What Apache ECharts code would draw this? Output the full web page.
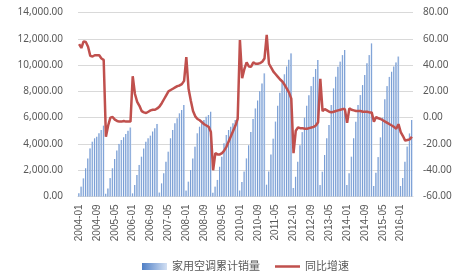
<!DOCTYPE html>
<html>
<head>
<meta charset="utf-8">
<script src="https://cdn.jsdelivr.net/npm/echarts@6/dist/echarts.min.js"></script>
<style>html,body{margin:0;padding:0;background:#fff;}#c{width:462px;height:273px;}</style>
</head>
<body>
<div id="c"></div>
<script>
// Cumulative household AC sales, by year (Jan..Dec)
const sales2004 = [240, 750, 1380, 2140, 2900, 3660, 4170, 4430, 4550, 4810, 5060, 5390];
const sales2005 = [200, 600, 1400, 2150, 2850, 3500, 4000, 4300, 4500, 4750, 5000, 5250];
const sales2006 = [240, 880, 1640, 2400, 3030, 3660, 4170, 4430, 4630, 4940, 5190, 5520];
const sales2007 = [300, 1000, 1770, 2650, 3410, 4430, 5060, 5570, 5950, 6330, 6590, 6960];
const sales2008 = [450, 1130, 2020, 2900, 3790, 4810, 5310, 5570, 5820, 6070, 6200, 6450];
const sales2009 = [290, 750, 1260, 2270, 3030, 4050, 4680, 5060, 5310, 5570, 5820, 6070];
const sales2010 = [450, 1100, 1900, 2900, 3900, 4900, 5900, 6700, 7300, 8000, 8600, 9370];
const sales2011 = [900, 1900, 3200, 4400, 5700, 6900, 7900, 8700, 9300, 9900, 10400, 10890];
const sales2012 = [650, 1500, 2650, 3900, 4900, 6000, 6900, 7700, 8400, 9100, 9700, 10380];
const sales2013 = [870, 1890, 3160, 4430, 5440, 6960, 8230, 9120, 9880, 10260, 10760, 11150];
const sales2014 = [870, 1770, 3030, 4430, 5690, 6960, 7720, 8480, 9240, 10130, 10760, 11650];
const sales2015 = [800, 1800, 3000, 4500, 6000, 7400, 8400, 9100, 9500, 9900, 10200, 10650];
const sales2016 = [800, 1400, 2650, 3800, 4800, 5820];

// YoY growth (%), by year
const yoy2004 = [56, 53, 58, 57.5, 54, 47, 46.5, 47.5, 47.5, 47.5, 45, 44];
const yoy2005 = [-14.5, -6, 0, 0.5, -1.5, -2.5, -3, -3, -2.5, -3, -3, -3];
const yoy2006 = [31.5, 18, 12, 9, 5, 4, 3.5, 4.5, 5.5, 6, 6, 7];
const yoy2007 = [8.5, 11, 14, 17, 20, 21, 22, 23, 24, 24.5, 25.5, 28];
const yoy2008 = [46, 22, 13, 5, 1, -1, -2, -3.5, -5, -6, -7, -11];
const yoy2009 = [-40, -27, -28, -28, -27, -25, -22, -18, -14, -10, -6, -1];
const yoy2010 = [59, 30, 37, 42, 39, 38.8, 42, 41, 41, 41.5, 42.5, 45];
const yoy2011 = [63, 41, 38, 35, 33, 31, 29, 27.5, 25, 22, 19, 14.5];
const yoy2012 = [-27, -10, -7.5, -8, -8, -8.5, -8.5, -8, -7.5, -7, -6, -3.5];
const yoy2013 = [29.5, 5, 6.5, 5.5, 4.5, 4, 4.5, 5, 5.5, 6, 6.5, 6.5];
const yoy2014 = [-4, 7, 6, 5.5, 5, 5, 5, 4.5, 4.5, 4.5, 4, 4];
const yoy2015 = [-3, 0.5, -0.5, -1, -2, -3, -4, -5, -6, -7, -8.5, -5];
const yoy2016 = [-11, -14, -17.5, -17, -16.5, -14.5];

const years = [2004, 2005, 2006, 2007, 2008, 2009, 2010, 2011, 2012, 2013, 2014, 2015, 2016];
const monthNames = ['01','02','03','04','05','06','07','08','09','10','11','12'];
const salesByYear = [sales2004, sales2005, sales2006, sales2007, sales2008, sales2009, sales2010, sales2011, sales2012, sales2013, sales2014, sales2015, sales2016];
const yoyByYear = [yoy2004, yoy2005, yoy2006, yoy2007, yoy2008, yoy2009, yoy2010, yoy2011, yoy2012, yoy2013, yoy2014, yoy2015, yoy2016];

const seriesNames = ['家用空调累计销量', '同比增速'];

const categories = [];
const salesData = [];
const yoyData = [];
years.forEach((y, i) => {
  salesByYear[i].forEach((v, m) => {
    categories.push(y + '-' + monthNames[m]);
    salesData.push(v);
    yoyData.push(yoyByYear[i][m]);
  });
});

function fmt(v) {
  const neg = v < 0;
  const a = Math.abs(v).toFixed(2);
  const parts = a.split('.');
  parts[0] = parts[0].replace(/\B(?=(\d{3})+(?!\d))/g, ',');
  return (neg ? '-' : '') + parts.join('.');
}

const chart = echarts.init(document.getElementById('c'), null, {renderer: 'canvas'});
const FONT = '"Noto Sans", "Noto Sans CJK SC", sans-serif';
const XFONT = '"Liberation Sans", "Noto Sans", sans-serif';
chart.setOption({
  animation: false,
  textStyle: {fontFamily: FONT},
  grid: {left: 78, right: 49, top: 12.5, bottom: 76.5, containLabel: false},
  legend: {
    left: 137, top: 256,
    itemWidth: 25, itemHeight: 7, itemGap: 15,
    textStyle: {color: '#595959', fontSize: 11, fontFamily: FONT},
    data: [
      {name: seriesNames[0], icon: 'rect'},
      {name: seriesNames[1], icon: 'path://M0,0 L27,0 L27,0.01 Z M0,2.2 L27,2.2 L27,4.8 L0,4.8 Z M0,7 L27,7 L27,7.01 Z'}
    ]
  },
  xAxis: {
    type: 'category',
    data: categories,
    boundaryGap: true,
    axisLine: {lineStyle: {color: '#d9d9d9'}},
    axisTick: {interval: 7, length: 4, lineStyle: {color: '#d9d9d9'}},
    axisLabel: {interval: 7, rotate: 90, color: '#595959', fontSize: 10, margin: 8, fontFamily: XFONT}
  },
  yAxis: [
    {
      type: 'value', min: 0, max: 14000, interval: 2000,
      axisLine: {show: false}, axisTick: {show: false},
      splitLine: {lineStyle: {color: '#d9d9d9'}},
      axisLabel: {color: '#595959', fontSize: 10, margin: 15, formatter: fmt}
    },
    {
      type: 'value', min: -60, max: 80, interval: 20,
      axisLine: {show: false}, axisTick: {show: false},
      splitLine: {show: false},
      axisLabel: {color: '#595959', fontSize: 10, margin: 10, formatter: fmt}
    }
  ],
  series: [
    {
      name: seriesNames[0], type: 'bar', yAxisIndex: 0, data: salesData,
      barCategoryGap: '30%',
      itemStyle: {
        color: new echarts.graphic.LinearGradient(0, 0, 1, 0, [
          {offset: 0, color: '#4f7fc6'},
          {offset: 1, color: '#d3e0f3'}
        ])
      }
    },
    {
      name: seriesNames[1], type: 'line', yAxisIndex: 1, data: yoyData,
      symbol: 'none', z: 5,
      lineStyle: {color: '#c0504d', width: 2.5},
      itemStyle: {color: '#c0504d'}
    }
  ]
});
</script>
</body>
</html>
